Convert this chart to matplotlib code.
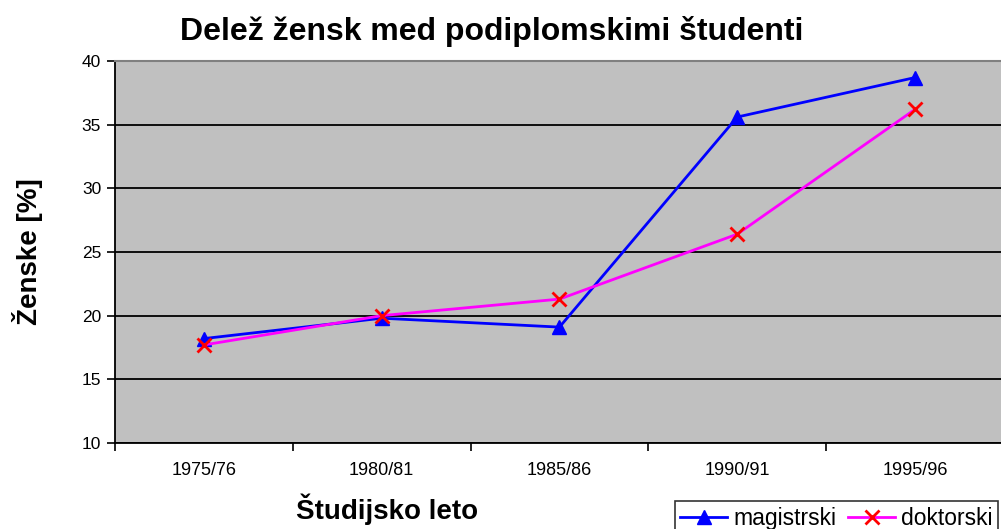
import matplotlib
matplotlib.use('Agg')
import matplotlib.pyplot as plt
import numpy as np

plt.rcParams['font.family'] = ['Liberation Sans', 'DejaVu Sans']

leta = ['1975/76', '1980/81', '1985/86', '1990/91', '1995/96']
magistrski = [18.2, 19.8, 19.1, 35.6, 38.7]
doktorski = [17.7, 20.0, 21.3, 26.4, 36.2]

fig = plt.figure(figsize=(10.01, 5.29), dpi=100)
ax = fig.add_axes([0.1149, 0.1626, 0.888, 0.7221])
ax.set_facecolor('#c0c0c0')

x = np.arange(len(leta))

# lines
ax.plot(x, magistrski, color='#0000ff', lw=2, marker='^', ms=10,
        mfc='#0000ff', mec='#0000ff', label='magistrski', zorder=3)
ax.plot(x, doktorski, color='#ff00ff', lw=2, marker='x', ms=10,
        mec='#ff0000', mew=2, label='doktorski', zorder=3)

# axes limits and ticks
ax.set_xlim(-0.5, len(leta) - 0.5)
ax.set_ylim(10, 40)
ax.set_yticks(np.arange(10, 41, 5))
ax.set_xticks(x)
ax.set_xticklabels(leta, fontsize=13)
ax.set_xticks(np.arange(-0.5, len(leta), 1), minor=True)
ax.tick_params(axis='x', which='major', length=0, pad=14)
ax.tick_params(axis='x', which='minor', length=6, width=1.2, color='black')
ax.tick_params(axis='y', length=6, width=1.2, labelsize=12.5, pad=4)

# grid
ax.grid(axis='y', color='black', lw=1.3)
ax.set_axisbelow(True)

# spines
ax.spines['top'].set_color('#808080')
ax.spines['top'].set_linewidth(1.5)
ax.spines['right'].set_visible(False)
ax.spines['left'].set_linewidth(1.3)
ax.spines['bottom'].set_linewidth(1.3)

# title and labels
fig.text(0.491, 0.941, 'Delež žensk med podiplomskimi študenti',
         ha='center', va='center', fontsize=23, fontweight='bold')
fig.text(0.387, 0.038, 'Študijsko leto', ha='center', va='center',
         fontsize=20, fontweight='bold')
fig.text(0.027, 0.524, 'Ženske [%]', ha='center', va='center',
         rotation=90, fontsize=20, fontweight='bold')

# legend
leg = fig.legend(loc='upper left', bbox_to_anchor=(0.674, 0.053), ncol=2,
                 fontsize=16.5, frameon=True, fancybox=False, edgecolor='black',
                 handlelength=2.05, handletextpad=0.26, columnspacing=0.52,
                 borderpad=0.25, borderaxespad=0)
leg.get_frame().set_linewidth(1.2)

fig.savefig('out.png', dpi=100)
